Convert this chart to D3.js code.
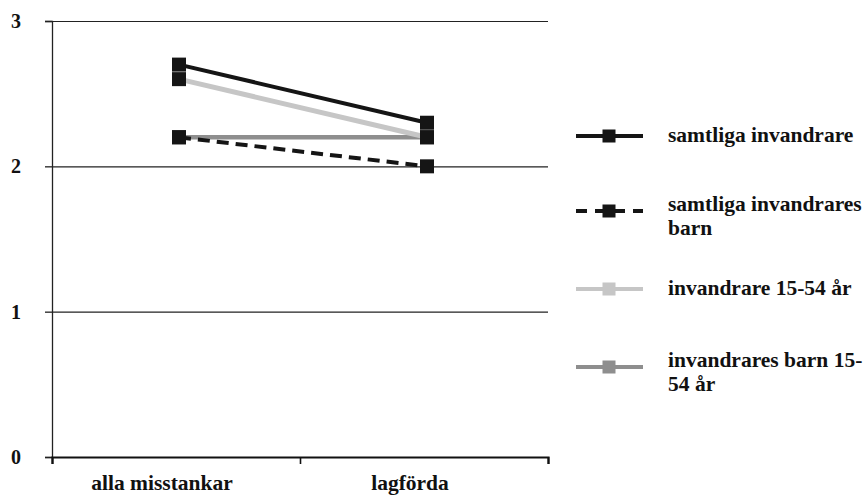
<!DOCTYPE html>
<html>

<head>
    <meta charset="utf-8">
    <title>misstankar</title>
    <script type="text/javascript" src="https://cdn.jsdelivr.net/npm/d3@7/dist/d3.min.js"></script>
    <style>
        body { margin: 0; background: #fff; }
        text { font-family: "Liberation Serif", "Times New Roman", serif; font-weight: bold; fill: #111; }
    </style>
</head>

<body>
    <script type="text/javascript">
    // data
    var categories = ['alla misstankar', 'lagförda'];
    var seriesNames = ['samtliga invandrare', 'samtliga invandrares barn', 'invandrare 15-54 år', 'invandrares barn 15-54 år'];
    var samtligaInvandrare = [2.7, 2.3];
    var samtligaBarn = [2.2, 2.0];
    var invandrare1554 = [2.6, 2.2];
    var barn1554 = [2.2, 2.2];
    var yTicks = [0, 1, 2, 3];

    var svgWidth = 868;
    var svgHeight = 495;
    var plotLeft = 52, plotRight = 548, plotTop = 21, plotBottom = 457;

    var svg = d3.select('body').append('svg')
        .attr('width', svgWidth)
        .attr('height', svgHeight);

    var x = d3.scaleBand().domain(categories).range([plotLeft, plotRight]);
    var xEdge = d3.scaleLinear().domain([0, categories.length]).range([plotLeft, plotRight]);
    var y = d3.scaleLinear().domain([0, 3]).range([plotBottom, plotTop]);

    /* grid */
    svg.append('g')
        .attr('transform', 'translate(' + plotLeft + ',0)')
        .call(d3.axisLeft(y).tickValues(yTicks.slice(1)).tickSize(-(plotRight - plotLeft)).tickFormat(''))
        .call(function(g) {
            g.select('.domain').remove();
            g.selectAll('line').attr('stroke', '#222').attr('stroke-width', 1.2);
        });

    /* y axis */
    svg.append('g')
        .attr('transform', 'translate(' + plotLeft + ',0)')
        .call(d3.axisLeft(y).tickValues(yTicks).tickSize(7).tickPadding(24).tickFormat(d3.format('d')))
        .call(function(g) {
            g.select('.domain').attr('stroke', '#222').attr('stroke-width', 1.3);
            g.selectAll('line').attr('stroke', '#222').attr('stroke-width', 1.3);
            g.selectAll('text').style('font-size', '20px').attr('fill', '#111');
        });

    /* x axis */
    svg.append('g')
        .attr('transform', 'translate(0,' + plotBottom + ')')
        .call(d3.axisBottom(xEdge).ticks(categories.length).tickSize(7).tickFormat(''))
        .call(function(g) {
            g.select('.domain').attr('stroke', '#111').attr('stroke-width', 2.2);
            g.selectAll('line').attr('stroke', '#111').attr('stroke-width', 1.6);
        });

    svg.append('g')
        .attr('transform', 'translate(0,' + plotBottom + ')')
        .call(d3.axisBottom(x).tickSize(0).tickPadding(18))
        .call(function(g) {
            g.select('.domain').remove();
            g.selectAll('text').style('font-size', '21.5px').attr('fill', '#111').attr('dx', -14);
        });

    /* series */
    var series = [
        { name: seriesNames[3], values: barn1554, color: '#8e8e8e', width: 4.5, dash: null, lines: ['invandrares barn 15-', '54 år'] },
        { name: seriesNames[1], values: samtligaBarn, color: '#151515', width: 4, dash: '12,7', lines: ['samtliga invandrares', 'barn'] },
        { name: seriesNames[2], values: invandrare1554, color: '#c6c6c6', width: 5, dash: null, lines: ['invandrare 15-54 år'] },
        { name: seriesNames[0], values: samtligaInvandrare, color: '#151515', width: 4, dash: null, lines: ['samtliga invandrare'] }
    ];

    var cx = function(i) { return x(categories[i]) + x.bandwidth() / 2 + 3; };

    var line = d3.line()
        .x(function(d, i) { return cx(i); })
        .y(function(d) { return y(d); });

    svg.selectAll('path.series')
        .data(series)
        .enter()
        .append('path')
        .attr('class', 'series')
        .attr('d', function(d) { return line(d.values); })
        .attr('fill', 'none')
        .attr('stroke', function(d) { return d.color; })
        .attr('stroke-width', function(d) { return d.width; })
        .attr('stroke-dasharray', function(d) { return d.dash; });

    var ms = 14;
    series.forEach(function(s) {
        svg.selectAll(null)
            .data(s.values)
            .enter()
            .append('rect')
            .attr('x', function(d, i) { return cx(i) - ms / 2; })
            .attr('y', function(d) { return y(d) - ms / 2; })
            .attr('width', ms)
            .attr('height', ms)
            .attr('fill', '#151515');
    });

    /* legend */
    var legendOrder = [series[3], series[1], series[2], series[0]];
    var legendY = [136, 211, 289, 367];
    var legend = svg.selectAll('g.legend')
        .data(legendOrder)
        .enter()
        .append('g')
        .attr('class', 'legend')
        .attr('transform', function(d, i) { return 'translate(0,' + legendY[i] + ')'; });

    legend.append('line')
        .attr('x1', 576).attr('x2', 643)
        .attr('stroke', function(d) { return d.color; })
        .attr('stroke-width', 4)
        .attr('stroke-dasharray', function(d) { return d.dash ? '11,8' : null; });

    legend.append('rect')
        .attr('x', 609 - 6.5).attr('y', -6.5)
        .attr('width', 13).attr('height', 13)
        .attr('fill', function(d) { return d.color; });

    legend.append('text')
        .style('font-size', '21.5px')
        .attr('x', 668)
        .selectAll('tspan')
        .data(function(d) { return d.lines.map(function(t) { return { t: t, n: d.lines.length }; }); })
        .enter()
        .append('tspan')
        .attr('x', 668)
        .attr('y', function(d, i) { return d.n === 1 ? 6 : (i === 0 ? 0 : 24); })
        .text(function(d) { return d.t; });
    </script>
</body>

</html>
